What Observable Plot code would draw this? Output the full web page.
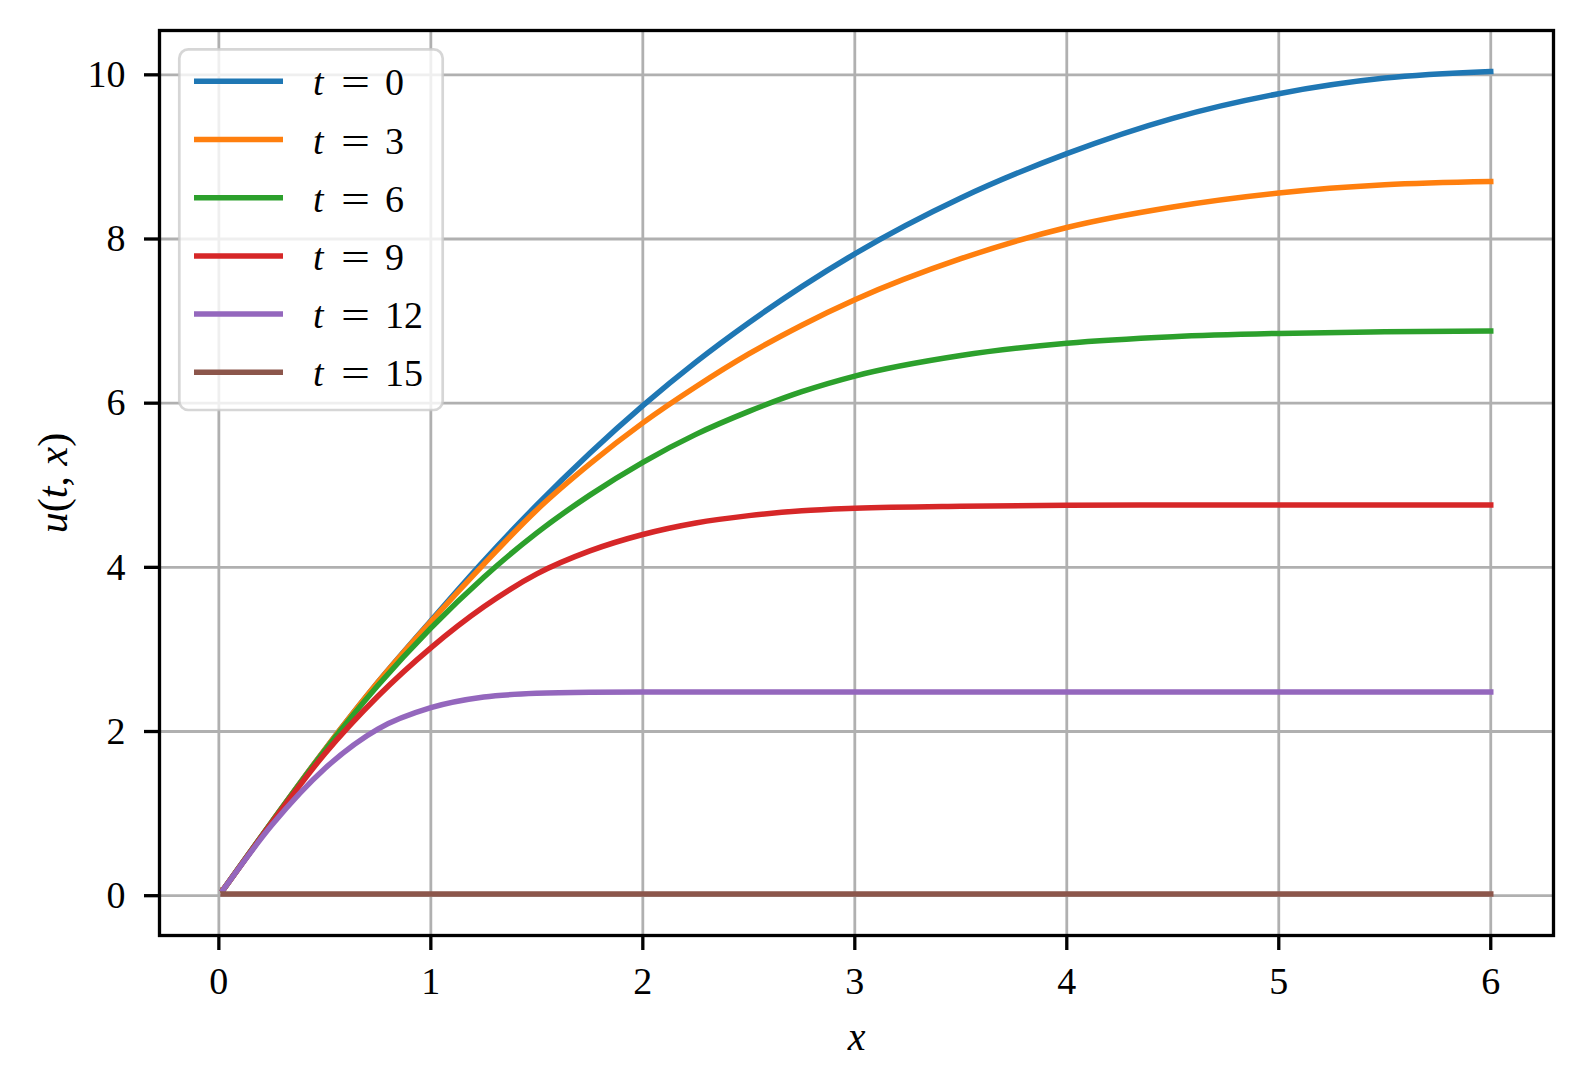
<!DOCTYPE html>
<html>
<head>
<meta charset="utf-8">
<script src="https://cdn.jsdelivr.net/npm/d3@7"></script>
<script src="https://cdn.jsdelivr.net/npm/@observablehq/plot@0.6"></script>
<style>
  html, body { margin: 0; padding: 0; background: #ffffff; }
  #wrap { position: relative; width: 1583px; height: 1085px; overflow: hidden; }
  #legend { position: absolute; left: 0; top: 0; pointer-events: none; }
</style>
</head>
<body>
<div id="wrap"></div>
<script>
// ---- data ----
const xValues = [0.02, 0.25, 0.5, 0.75, 1, 1.25, 1.5, 1.75, 2, 2.25, 2.5, 2.75, 3, 3.5, 4, 4.5, 5, 5.5, 6];
const tLabels = ["0", "3", "6", "9", "12", "15"];
const u_t0  = [0.07, 0.90, 1.78, 2.60, 3.35, 4.08, 4.76, 5.39, 5.97, 6.50, 6.98, 7.42, 7.82, 8.50, 9.04, 9.47, 9.77, 9.96, 10.04];
const u_t3  = [0.07, 0.90, 1.78, 2.60, 3.34, 4.04, 4.70, 5.26, 5.76, 6.20, 6.60, 6.95, 7.26, 7.76, 8.14, 8.39, 8.56, 8.66, 8.70];
const u_t6  = [0.07, 0.90, 1.77, 2.56, 3.26, 3.88, 4.42, 4.88, 5.28, 5.62, 5.90, 6.14, 6.33, 6.58, 6.73, 6.81, 6.85, 6.87, 6.88];
const u_t9  = [0.07, 0.89, 1.73, 2.43, 3.02, 3.52, 3.92, 4.20, 4.40, 4.54, 4.63, 4.69, 4.72, 4.745, 4.755, 4.76, 4.76, 4.76, 4.76];
const u_t12 = [0.07, 0.86, 1.55, 2.03, 2.29, 2.42, 2.465, 2.477, 2.48, 2.48, 2.48, 2.48, 2.48, 2.48, 2.48, 2.48, 2.48, 2.48, 2.48];
const u_t15 = [0.02, 0.02, 0.02, 0.02, 0.02, 0.02, 0.02, 0.02, 0.02, 0.02, 0.02, 0.02, 0.02, 0.02, 0.02, 0.02, 0.02, 0.02, 0.02];
const seriesColors = ["#1f77b4", "#ff7f0e", "#2ca02c", "#d62728", "#9467bd", "#8c564b"];
const xTicks = [0, 1, 2, 3, 4, 5, 6];
const yTicks = [0, 2, 4, 6, 8, 10];
const xAxisLabel = "x";
const yAxisLabel = "u(t, x)";

// ---- build table ----
const allSeries = [u_t0, u_t3, u_t6, u_t9, u_t12, u_t15];
const rows = [];
allSeries.forEach((vals, i) => vals.forEach((v, j) => rows.push({x: xValues[j], u: v, t: tLabels[i]})));

const FONT = "'Liberation Serif', 'DejaVu Serif', serif";
const W = 1583, H = 1085;
const mL = 159, mR = 30, mT = 30, mB = 150;

const chart = Plot.plot({
  width: W, height: H,
  marginLeft: mL, marginRight: mR, marginTop: mT, marginBottom: mB,
  style: {fontFamily: FONT, fontSize: "38px", background: "white", color: "black", overflow: "visible"},
  x: {domain: [-0.28, 6.296]},
  y: {domain: [-0.485, 10.54]},
  color: {domain: tLabels, range: seriesColors},
  marks: [
    Plot.gridX(xTicks, {stroke: "#b0b0b0", strokeOpacity: 1, strokeWidth: 2.8}),
    Plot.gridY(yTicks, {stroke: "#b0b0b0", strokeOpacity: 1, strokeWidth: 2.8}),
    Plot.line(rows, {x: "x", y: "u", z: "t", stroke: "t", strokeWidth: 5.5, curve: "monotone-x", strokeLinecap: "square", strokeLinejoin: "round"}),
    Plot.frame({stroke: "black", strokeWidth: 3.3}),
    Plot.axisX(xTicks, {tickSize: 15, tickPadding: 17, fontSize: 38, strokeWidth: 3.3, label: null, tickFormat: d3.format("d")}),
    Plot.axisY(yTicks, {tickSize: 15, tickPadding: 19, fontSize: 38, strokeWidth: 3.3, label: null, tickFormat: d3.format("d")}),
    Plot.text([xAxisLabel], {frameAnchor: "bottom", dy: 102, textAnchor: "middle", lineAnchor: "middle", fontStyle: "italic", fontSize: 40}),
    Plot.text([yAxisLabel], {frameAnchor: "left", dx: -106, textAnchor: "middle", lineAnchor: "middle", rotate: -90, fontSize: 42})
  ]
});

// style the math-like y label: italic variables, upright punctuation
d3.select(chart).selectAll("text").each(function() {
  if (this.textContent === yAxisLabel) {
    const sel = d3.select(this);
    sel.text(null);
    const parts = [["u", true], ["(", false], ["t", true], [", ", false], ["x", true], [")", false]];
    parts.forEach(([s, it]) => sel.append("tspan").attr("font-style", it ? "italic" : "normal").text(s));
  }
});

const wrap = document.getElementById("wrap");
wrap.appendChild(chart);

// ---- legend (inside upper left of the axes) ----
const leg = d3.select(wrap).append("svg")
  .attr("id", "legend").attr("width", W).attr("height", H)
  .attr("font-family", FONT).attr("font-size", 38);
leg.append("rect")
  .attr("x", 179.3).attr("y", 49.3).attr("width", 263.4).attr("height", 360.7)
  .attr("rx", 9).attr("ry", 9)
  .attr("fill", "white").attr("fill-opacity", 0.8)
  .attr("stroke", "#cccccc").attr("stroke-opacity", 0.8).attr("stroke-width", 2.7);
tLabels.forEach((lab, i) => {
  const cy = 81.3 + 58.2 * i;
  leg.append("line")
    .attr("x1", 194).attr("x2", 283).attr("y1", cy).attr("y2", cy)
    .attr("stroke", seriesColors[i]).attr("stroke-width", 5.5);
  const tx = leg.append("text").attr("y", cy + 14).attr("fill", "black");
  tx.append("tspan").attr("x", 313).attr("font-style", "italic").text("t");
  tx.append("tspan").attr("x", 341).attr("textLength", 29).attr("lengthAdjust", "spacingAndGlyphs").text("=");
  tx.append("tspan").attr("x", 385).text(lab);
});
</script>
</body>
</html>
